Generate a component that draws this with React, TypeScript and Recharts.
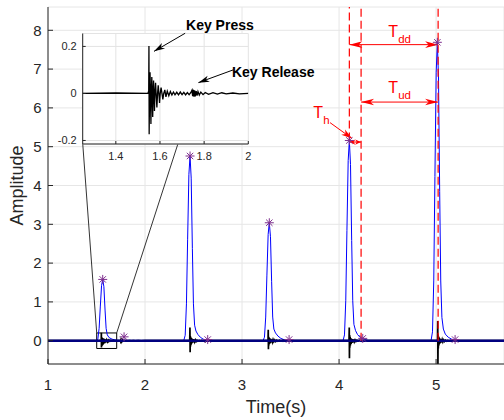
"use client"

import {
  CartesianGrid,
  ComposedChart,
  Label,
  Line,
  ReferenceArea,
  ReferenceDot,
  ReferenceLine,
  Scatter,
  XAxis,
  YAxis,
} from "recharts"

type Pt = [number, number]

// blue envelope around each key stroke: [time (s), amplitude]
const envelope1: Pt[] = [
  [1.499, 0], [1.514, 0.05], [1.527, 0.32], [1.539, 0.87], [1.552, 1.42], [1.564, 1.58],
  [1.576, 1.39], [1.588, 0.79], [1.599, 0.32], [1.611, 0.15], [1.63, 0.08], [1.66, 0.04],
  [1.7, 0.015], [1.75, 0],
]
const envelope2: Pt[] = [
  [2.399, 0], [2.414, 0.14], [2.427, 0.95], [2.439, 2.6], [2.452, 4.28], [2.464, 4.76],
  [2.476, 4.19], [2.488, 2.38], [2.499, 0.95], [2.511, 0.4], [2.525, 0.25], [2.545, 0.16],
  [2.57, 0.09], [2.6, 0.04], [2.65, 0.01], [2.7, 0],
]
const envelope3: Pt[] = [
  [3.216, 0], [3.231, 0.09], [3.244, 0.61], [3.256, 1.67], [3.269, 2.74], [3.281, 3.04],
  [3.293, 2.68], [3.305, 1.52], [3.316, 0.61], [3.328, 0.3], [3.345, 0.2], [3.37, 0.12],
  [3.4, 0.06], [3.44, 0.02], [3.49, 0],
]
const envelope4: Pt[] = [
  [4.041, 0], [4.056, 0.15], [4.069, 1.03], [4.081, 2.84], [4.094, 4.64], [4.106, 5.16],
  [4.118, 4.54], [4.13, 2.58], [4.141, 1.03], [4.153, 0.42], [4.17, 0.26], [4.19, 0.16],
  [4.22, 0.08], [4.26, 0.03], [4.31, 0],
]
const envelope5: Pt[] = [
  [4.948, 0], [4.963, 0.23], [4.976, 1.54], [4.988, 4.23], [5.001, 6.92], [5.013, 7.69],
  [5.025, 6.77], [5.037, 3.85], [5.048, 1.54], [5.06, 0.6], [5.075, 0.3], [5.095, 0.17],
  [5.125, 0.09], [5.16, 0.04], [5.21, 0.01], [5.26, 0],
]

// keyboard sound around each key press (the first one is also shown in the inset)
const audio1: Pt[] = [
  [1.25, 0], [1.4, 0.002], [1.545, 0], [1.549, 0.01], [1.55, 0.202], [1.551, -0.173],
  [1.553, 0.02], [1.555, 0.09], [1.557, -0.02], [1.559, -0.13], [1.561, 0.01], [1.563, 0.07],
  [1.565, -0.01], [1.567, -0.1], [1.569, 0.01], [1.571, 0.055], [1.573, -0.01], [1.575, -0.075],
  [1.577, 0], [1.58, 0.045], [1.583, -0.01], [1.586, -0.06], [1.589, 0], [1.592, 0.035],
  [1.595, 0], [1.598, -0.04], [1.601, 0], [1.605, 0.025], [1.609, 0], [1.613, -0.025],
  [1.617, 0], [1.622, 0.015], [1.627, -0.015], [1.633, 0.01], [1.64, -0.01], [1.647, 0.008],
  [1.654, -0.007], [1.661, 0.006], [1.668, -0.006], [1.676, 0.005], [1.684, -0.006], [1.692, 0.006],
  [1.7, -0.005], [1.708, 0.005], [1.716, -0.006], [1.724, 0.004], [1.732, -0.005], [1.74, 0.004],
  [1.745, 0.014], [1.748, -0.012], [1.751, 0.016], [1.754, -0.014], [1.757, 0.013], [1.76, -0.012],
  [1.764, 0.01], [1.768, -0.009], [1.772, 0.008], [1.778, -0.007], [1.785, 0.006], [1.795, -0.005],
  [1.805, 0.004], [1.82, -0.004], [1.84, 0.003], [1.86, -0.003], [1.88, 0.003], [1.9, -0.002],
  [1.93, 0.002], [1.96, -0.002], [2.0, 0],
]
const audio2: Pt[] = [
  [2.455, 0], [2.461, 0.02], [2.463, 0.34], [2.465, -0.3], [2.467, 0.12], [2.469, -0.15],
  [2.472, 0.09], [2.475, -0.1], [2.478, 0.07], [2.482, -0.07], [2.486, 0.05], [2.49, -0.05],
  [2.495, 0.04], [2.5, -0.04], [2.506, 0.03], [2.512, -0.03], [2.519, 0.02], [2.527, -0.02],
  [2.536, 0.012], [2.546, -0.01], [2.558, 0.008], [2.57, -0.008], [2.585, 0.006], [2.6, -0.006],
  [2.62, 0.012], [2.624, -0.012], [2.63, 0.008], [2.64, -0.005], [2.66, 0],
]
const audio3: Pt[] = [
  [3.262, 0], [3.268, 0.02], [3.27, 0.28], [3.272, -0.22], [3.274, 0.1], [3.276, -0.12],
  [3.279, 0.08], [3.282, -0.08], [3.286, 0.06], [3.29, -0.06], [3.295, 0.045], [3.3, -0.045],
  [3.306, 0.035], [3.313, -0.035], [3.32, 0.03], [3.328, -0.025], [3.337, 0.02], [3.347, -0.02],
  [3.358, 0.015], [3.37, -0.012], [3.385, 0.01], [3.4, -0.01], [3.42, 0.012], [3.425, -0.01],
  [3.44, 0.006], [3.46, -0.004], [3.48, 0],
]
const audio4: Pt[] = [
  [4.097, 0], [4.103, 0.02], [4.105, 0.34], [4.107, -0.45], [4.109, 0.15], [4.111, -0.18],
  [4.114, 0.1], [4.117, -0.12], [4.12, 0.07], [4.124, -0.08], [4.128, 0.05], [4.133, -0.055],
  [4.138, 0.04], [4.144, -0.04], [4.15, 0.03], [4.157, -0.03], [4.165, 0.02], [4.174, -0.02],
  [4.184, 0.012], [4.195, -0.01], [4.21, 0.008], [4.225, -0.012], [4.23, 0.012], [4.236, -0.008],
  [4.25, 0.004], [4.27, 0],
]
const audio5: Pt[] = [
  [5.009, 0], [5.015, 0.03], [5.017, 0.51], [5.019, -0.6], [5.021, 0.16], [5.023, -0.2],
  [5.026, 0.11], [5.029, -0.12], [5.032, 0.08], [5.036, -0.08], [5.04, 0.055], [5.045, -0.055],
  [5.05, 0.04], [5.056, -0.04], [5.063, 0.03], [5.07, -0.03], [5.078, 0.02], [5.087, -0.018],
  [5.097, 0.012], [5.108, -0.01], [5.12, 0.008], [5.135, -0.006], [5.15, 0.006], [5.165, -0.005],
  [5.18, 0],
]

const baseline: Pt[] = [[1, 0], [5.7, 0]]

// detected press / release points
const markerTimes = [1.564, 1.784, 2.464, 2.646, 3.281, 3.485, 4.106, 4.244, 5.013, 5.196]
const markerValues = [1.58, 0.1, 4.76, 0.03, 3.04, 0.03, 5.16, 0.06, 7.69, 0.03]

// timing annotation (key 4 down / up, key 5 down)
const down4 = 4.106
const up4 = 4.227
const down5 = 5.021
const levelDD = 7.63
const levelUD = 6.15
const levelH = 5.12

const xTicks = [1, 2, 3, 4, 5]
const yTicks = [0, 1, 2, 3, 4, 5, 6, 7, 8]
const insetXTicks = [1.4, 1.6, 1.8, 2]
const insetYTicks = [-0.2, 0, 0.2]

const INK = "#262626"
const RED = "#ff0000"
const FONT = "'Liberation Sans', Arial, Helvetica, sans-serif"

const rows = (pts: Pt[]) => pts.map(([t, v]) => ({ t, v }))

const envelopeRows = rows([[1, 0], ...envelope1, ...envelope2, ...envelope3, ...envelope4, ...envelope5, [5.7, 0]])
const audioRows = rows([[1, 0], ...audio1, ...audio2, ...audio3, ...audio4, ...audio5, [5.7, 0]])
const insetRows = rows(audio1)
const markerRows = markerTimes.map((t, i) => ({ t, v: markerValues[i] }))

function headPts(tx: number, ty: number, fx: number, fy: number, len: number, half: number) {
  const d = Math.hypot(tx - fx, ty - fy) || 1
  const ux = (tx - fx) / d
  const uy = (ty - fy) / d
  const bx = tx - ux * len
  const by = ty - uy * len
  const nx = tx - ux * len * 0.72
  const ny = ty - uy * len * 0.72
  return `${tx},${ty} ${bx - uy * half},${by + ux * half} ${nx},${ny} ${bx + uy * half},${by - ux * half}`
}

const arrow = (color: string, both: boolean, len: number, half: number) => (p: any) => {
  const { x1, y1, x2, y2 } = p
  return (
    <g>
      <line x1={x1} y1={y1} x2={x2} y2={y2} stroke={color} strokeWidth={1} />
      <polygon points={headPts(x2, y2, x1, y1, len, half)} fill={color} />
      {both && <polygon points={headPts(x1, y1, x2, y2, len, half)} fill={color} />}
    </g>
  )
}

const subLabel = (main: string, sub: string) => (p: any) => (
  <text x={p.cx} y={p.cy} fill={RED} fontSize={16} fontFamily={FONT}>
    {main}
    <tspan fontSize={11.5} dx={0} dy={6}>{sub}</tspan>
  </text>
)

const boldLabel = (txt: string) => (p: any) => (
  <text x={p.cx} y={p.cy} fill="#000" fontSize={14} fontWeight="bold" fontFamily={FONT}>{txt}</text>
)

const star = (p: any) => {
  const { cx, cy } = p
  const r = 4.5
  const d = 3.2
  return (
    <g stroke="#7e2f8e" strokeWidth={1}>
      <line x1={cx - r} y1={cy} x2={cx + r} y2={cy} />
      <line x1={cx} y1={cy - r} x2={cx} y2={cy + r} />
      <line x1={cx - d} y1={cy - d} x2={cx + d} y2={cy + d} />
      <line x1={cx - d} y1={cy + d} x2={cx + d} y2={cy - d} />
    </g>
  )
}

function MainChart() {
  return (
    <ComposedChart width={504} height={420} margin={{ top: 7, right: 0, bottom: 0, left: 0 }}>
      <CartesianGrid stroke="#e6e6e6" />
      <XAxis
        dataKey="t"
        type="number"
        domain={[1, 5.7]}
        ticks={xTicks}
        allowDataOverflow
        height={56}
        tickSize={-5}
        tickMargin={20}
        stroke={INK}
        tick={{ fontSize: 15, fill: INK }}
      >
        <Label
          content={() => (
            <text x={276} y={413} textAnchor="middle" fontSize={18} fill={INK}>Time(s)</text>
          )}
        />
      </XAxis>
      <XAxis
        xAxisId="top"
        orientation="top"
        type="number"
        domain={[1, 5.7]}
        ticks={xTicks}
        allowDataOverflow
        height={0}
        tickSize={-5}
        tick={false}
        stroke={INK}
      />
      <YAxis
        type="number"
        domain={[-0.6, 8.6]}
        ticks={yTicks}
        allowDataOverflow
        width={48}
        tickSize={-5}
        tickMargin={11.5}
        stroke={INK}
        tick={{ fontSize: 15, fill: INK }}
      >
        <Label
          content={() => (
            <text transform="translate(23,185.5) rotate(-90)" textAnchor="middle" fontSize={18} fill={INK}>
              Amplitude
            </text>
          )}
        />
      </YAxis>
      <YAxis
        yAxisId="right"
        orientation="right"
        type="number"
        domain={[-0.6, 8.6]}
        ticks={yTicks}
        allowDataOverflow
        width={0}
        tickSize={-5}
        tick={false}
        stroke={INK}
      />

      <Line data={envelopeRows} dataKey="v" stroke="#0000ff" strokeWidth={1} dot={false} activeDot={false} isAnimationActive={false} />
      <Line data={audioRows} dataKey="v" stroke="#000" strokeWidth={1.7} dot={false} activeDot={false} isAnimationActive={false} />
      <Line data={rows(baseline)} dataKey="v" stroke="#00007f" strokeWidth={2.5} dot={false} activeDot={false} isAnimationActive={false} />

      <ReferenceArea x1={1.502} x2={1.708} y1={-0.2} y2={0.2} fill="none" stroke="#000" strokeWidth={1} ifOverflow="visible" />
      <ReferenceLine segment={[{ x: 1.358, y: 5.08 }, { x: 1.502, y: 0.2 }]} stroke="#000" strokeWidth={0.8} />
      <ReferenceLine segment={[{ x: 2.34, y: 5.08 }, { x: 1.708, y: 0.2 }]} stroke="#000" strokeWidth={0.8} />

      <ReferenceLine segment={[{ x: down4, y: 5.16 }, { x: down4, y: 8.6 }]} stroke={RED} strokeWidth={1.2} strokeDasharray="8 4" />
      <ReferenceLine segment={[{ x: up4, y: 0 }, { x: up4, y: 8.6 }]} stroke={RED} strokeWidth={1.2} strokeDasharray="8 4" />
      <ReferenceLine segment={[{ x: down5, y: 0 }, { x: down5, y: 8.6 }]} stroke={RED} strokeWidth={1.2} strokeDasharray="8 4" />

      <ReferenceLine segment={[{ x: down4, y: levelDD }, { x: down5, y: levelDD }]} shape={arrow(RED, true, 13, 3.3)} />
      <ReferenceLine segment={[{ x: up4, y: levelUD }, { x: down5, y: levelUD }]} shape={arrow(RED, true, 13, 3.3)} />
      <ReferenceLine segment={[{ x: down4, y: levelH }, { x: up4, y: levelH }]} shape={arrow(RED, true, 6, 2.6)} />
      <ReferenceLine segment={[{ x: 3.907, y: 5.62 }, { x: 4.134, y: 5.21 }]} shape={arrow(RED, false, 11, 3.2)} />

      <ReferenceDot x={4.508} y={7.83} shape={subLabel("T", "dd")} ifOverflow="visible" />
      <ReferenceDot x={4.508} y={6.39} shape={subLabel("T", "ud")} ifOverflow="visible" />
      <ReferenceDot x={3.735} y={5.745} shape={subLabel("T", "h")} ifOverflow="visible" />

      <Scatter data={markerRows} dataKey="v" shape={star} isAnimationActive={false} />
    </ComposedChart>
  )
}

function InsetChart() {
  return (
    <ComposedChart width={340} height={170} margin={{ top: 33.5, right: 91.7, bottom: 6, left: 52.7 }}>
      <CartesianGrid stroke="#e3e3e3" fill="#fff" fillOpacity={1} />
      <XAxis
        dataKey="t"
        type="number"
        domain={[1.25, 2]}
        ticks={insetXTicks}
        allowDataOverflow
        height={20}
        tickSize={-3}
        tickMargin={10.8}
        stroke={INK}
        tick={{ fontSize: 11, fill: INK }}
      />
      <XAxis
        xAxisId="top"
        orientation="top"
        type="number"
        domain={[1.25, 2]}
        ticks={insetXTicks}
        allowDataOverflow
        height={0}
        tickSize={-3}
        tick={false}
        stroke={INK}
      />
      <YAxis
        type="number"
        domain={[-0.215, 0.255]}
        ticks={insetYTicks}
        allowDataOverflow
        width={30}
        tickSize={-3}
        tickMargin={9}
        stroke={INK}
        tick={{ fontSize: 11, fill: INK }}
      />
      <YAxis
        yAxisId="right"
        orientation="right"
        type="number"
        domain={[-0.215, 0.255]}
        ticks={insetYTicks}
        allowDataOverflow
        width={0}
        tickSize={-3}
        tick={false}
        stroke={INK}
      />
      <Line data={insetRows} dataKey="v" stroke="#000" strokeWidth={1.3} dot={false} activeDot={false} isAnimationActive={false} />

      <ReferenceLine segment={[{ x: 1.714, y: 0.256 }, { x: 1.573, y: 0.179 }]} shape={arrow("#000", false, 11, 3.2)} ifOverflow="visible" />
      <ReferenceLine segment={[{ x: 1.931, y: 0.1 }, { x: 1.774, y: 0.046 }]} shape={arrow("#000", false, 11, 3.2)} ifOverflow="visible" />
      <ReferenceDot x={1.718} y={0.27} shape={boldLabel("Key Press")} ifOverflow="visible" />
      <ReferenceDot x={1.926} y={0.0715} shape={boldLabel("Key Release")} ifOverflow="visible" />
    </ComposedChart>
  )
}

export default function App() {
  return (
    <div
      style={{
        position: "absolute",
        left: 0,
        top: 0,
        width: 504,
        height: 420,
        background: "#fff",
        fontFamily: FONT,
        overflow: "hidden",
      }}
    >
      <div style={{ position: "absolute", left: 0, top: 0 }}>
        <MainChart />
      </div>
      <div style={{ position: "absolute", left: 0, top: 0 }}>
        <InsetChart />
      </div>
    </div>
  )
}
